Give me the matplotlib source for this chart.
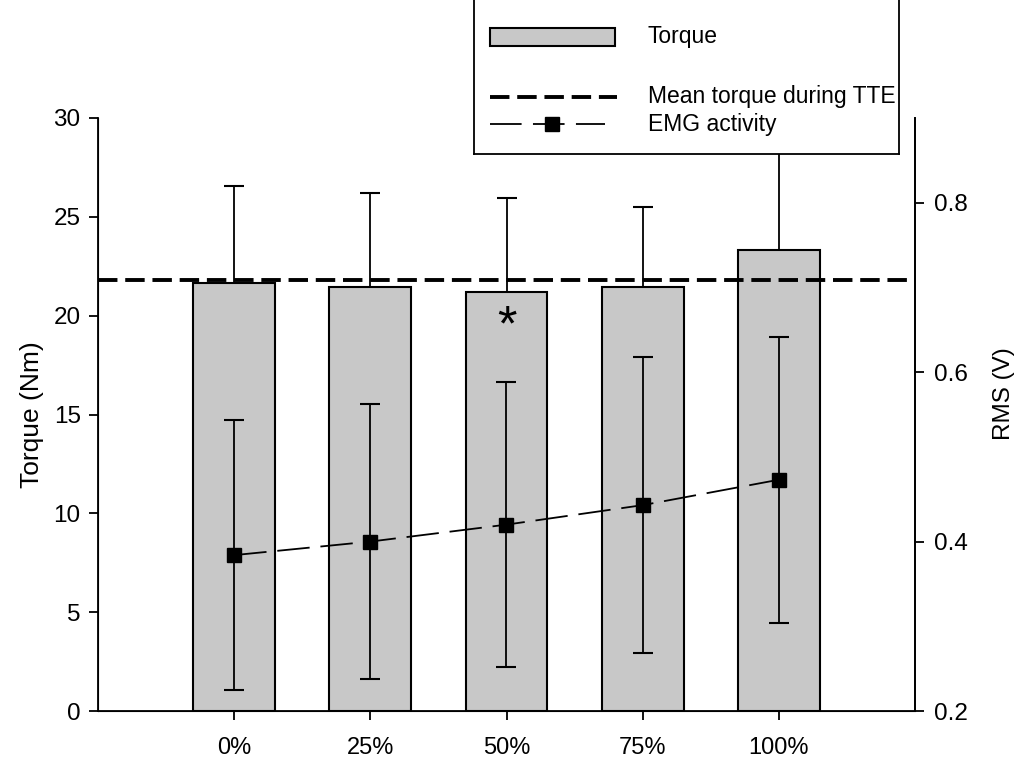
import numpy as np
import matplotlib
matplotlib.use("Agg")
import matplotlib.pyplot as plt
from matplotlib.patches import Rectangle
from matplotlib.lines import Line2D

plt.rcParams["font.family"] = ["Liberation Sans", "DejaVu Sans"]

# data
categories = ["0%", "25%", "50%", "75%", "100%"]
torque = [21.65, 21.45, 21.2, 21.45, 23.3]
torque_sd = [4.9, 4.75, 4.75, 4.05, 5.6]
mean_torque_tte = 21.8
emg = [0.384, 0.400, 0.420, 0.443, 0.473]
emg_sd = [0.159, 0.162, 0.168, 0.175, 0.169]
sig_marks = ["", "", "*", "", ""]

bar_color = "#c8c8c8"
fs = 17

fig = plt.figure(figsize=(10.21, 7.62), dpi=100)
ax = fig.add_axes([98/1021, 1-711/762, 817/1021, 593/762])
x = np.arange(len(categories))

ax.bar(x, torque, width=0.6, color=bar_color, edgecolor="black", linewidth=1.5, zorder=2)
eb = ax.errorbar(x, torque, yerr=[np.zeros(len(x)), torque_sd], fmt="none",
                 ecolor="black", elinewidth=1.3, capsize=7, capthick=1.5, zorder=3)
eb[1][0].set_visible(False)
ax.axhline(mean_torque_tte, color="black", lw=2.8, ls=(0, (5, 2)), zorder=4)

for xi, t, m in zip(x, torque, sig_marks):
    if m:
        ax.text(xi, t - 1.8, m, ha="center", va="center", fontsize=36, zorder=5)

ax.set_xlim(-1, 5)
ax.set_ylim(0, 30)
ax.set_xticks(x)
ax.set_xticklabels(categories)
ax.set_yticks(np.arange(0, 31, 5))
ax.spines["top"].set_visible(False)
for s in ("left", "bottom", "right"):
    ax.spines[s].set_linewidth(1.3)
ax.tick_params(axis="y", direction="out", length=6.5, width=1.3, pad=6, labelsize=fs + 0.5)
ax.tick_params(axis="x", direction="out", length=6.5, width=1.3, pad=12, labelsize=fs)
ax.set_ylabel("Torque (Nm)", fontsize=fs + 2)
ax.yaxis.set_label_coords(-0.066, 0.5)

ax2 = ax.twinx()
ax2.errorbar(x, emg, yerr=emg_sd, color="black", lw=1.3, ls=(0, (18, 6)),
             marker="s", markersize=10, ecolor="black", elinewidth=1.3,
             capsize=7, capthick=1.5, zorder=5)
ax2.set_ylim(0.2, 0.9)
ax2.set_yticks([0.2, 0.4, 0.6, 0.8])
ax2.set_yticklabels(["0.2", "0.4", "0.6", "0.8"])
ax2.spines["top"].set_visible(False)
ax2.spines["right"].set_linewidth(1.3)
ax2.tick_params(axis="y", direction="out", length=6.5, width=1.3, pad=7, labelsize=fs + 0.5)
ax2.set_ylabel("RMS (V)", fontsize=fs + 0.5)
ax2.yaxis.set_label_coords(1.095, 0.536)

# legend box (top runs off the figure)
lax = fig.add_axes([474/1021, 1-154/762, 425/1021, 200/762])
lax.set_xlim(474, 899)
lax.set_ylim(154, -46)
lax.set_xticks([])
lax.set_yticks([])
for s in lax.spines.values():
    s.set_linewidth(1.3)
lax.add_patch(Rectangle((490, 28), 125, 18, facecolor=bar_color, edgecolor="black", lw=1.5))
lax.add_line(Line2D([490, 617], [97, 97], color="black", lw=2.8, ls=(0, (5, 2))))
lax.add_line(Line2D([490, 605], [124, 124], color="black", lw=1.3, ls=(0, (17.5, 6.3))))
lax.add_line(Line2D([552], [124], marker="s", markersize=10, color="black", ls="none"))
lax.text(648, 37, "Torque", va="center", fontsize=fs - 0.5)
lax.text(648, 97, "Mean torque during TTE", va="center", fontsize=fs - 0.5)
lax.text(648, 124, "EMG activity", va="center", fontsize=fs - 0.5)

fig.savefig("out.png", dpi=100)
